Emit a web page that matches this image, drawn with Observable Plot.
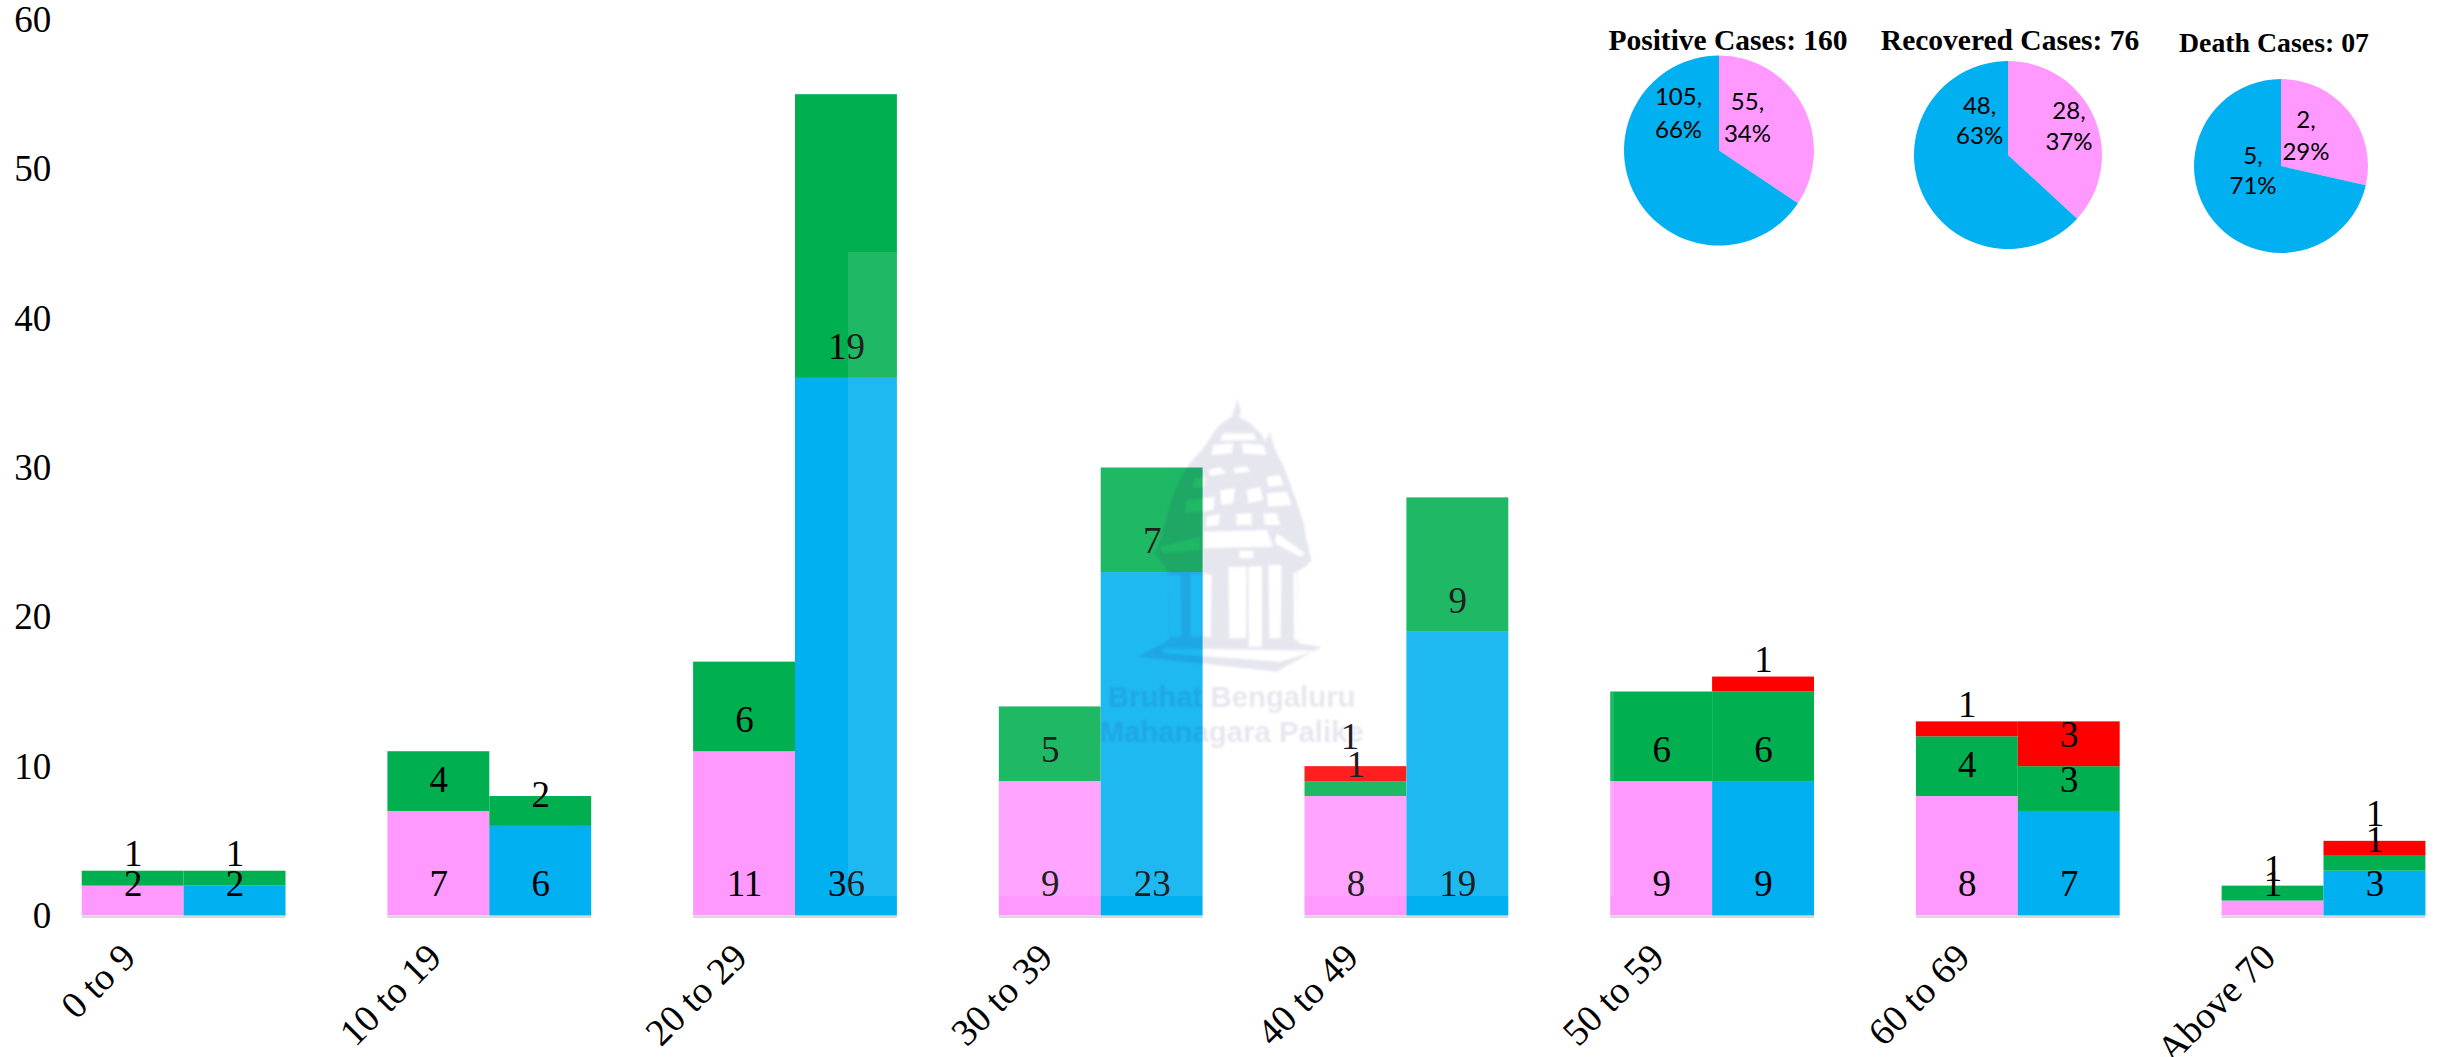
<!DOCTYPE html>
<html>
<head>
<meta charset="utf-8">
<script src="https://cdn.jsdelivr.net/npm/d3@7"></script>
<script src="https://cdn.jsdelivr.net/npm/@observablehq/plot@0.6"></script>
<style>
html,body{margin:0;padding:0;background:#fff;overflow:hidden}
#stage{position:relative;width:2438px;height:1057px}
#stage>svg{position:absolute;left:0;top:0}
#stage>#veil{position:absolute;left:848px;top:252px;width:766px;height:644px;background:rgba(255,255,255,.12);pointer-events:none}
#stage>#mark{left:1090px;top:390px;width:290px;height:370px;pointer-events:none;overflow:visible;filter:blur(.8px)}
</style>
</head>
<body>
<div id="stage"></div>
<script>
// ---- data ----
const ages = ["0 to 9","10 to 19","20 to 29","30 to 39","40 to 49","50 to 59","60 to 69","Above 70"];
const sexes = ["Female","Male"];
const femaleActive    = [2,7,11,9,8,9,8,1];
const femaleRecovered = [1,4,6,5,1,6,4,1];
const femaleDeath     = [0,0,0,0,1,0,1,0];
const maleActive      = [2,6,36,23,19,9,7,3];
const maleRecovered   = [1,2,19,7,9,6,3,1];
const maleDeath       = [0,0,0,0,0,1,3,1];

const pieTitles  = ["Positive Cases: 160","Recovered Cases: 76","Death Cases: 07"];
const pieFemale  = [55,28,2];
const pieMale    = [105,48,5];
const piePercentF = ["34%","37%","29%"];
const piePercentM = ["66%","63%","71%"];

// ---- layout and style ----
const colors = {Female:"#FF99FF", Male:"#00B0F0", Recovered:"#00B050", Death:"#FF0000"};
const serif = "'Liberation Serif','Times New Roman',serif";
const pieLayout = [
  {cx:1719, cy:150.5, r:95, titleX:1728, titleY:40, titleSize:29.5, f:[28.5,-50.5,-18.5], m:[-40.5,-55.5,-22.5]},
  {cx:2008, cy:155,   r:94, titleX:2010, titleY:40, titleSize:29.5, f:[61,-46,-15],       m:[-28.4,-51,-21]},
  {cx:2281, cy:166,   r:87, titleX:2274, titleY:42, titleSize:27.8, f:[25,-48,-16],       m:[-28,-12,18]}
];
const labelOffset = -31.5;
const labelNudges = [
  {age:"40 to 49", sex:"Female", status:"Death", dx:-6, dy:-13},
  {age:"Above 70", sex:"Male",   status:"Death", dx:0,  dy:-11}
];

// ---- table for the stacked bars ----
const series = {
  Female:{Active:femaleActive, Recovered:femaleRecovered, Death:femaleDeath},
  Male:{Active:maleActive, Recovered:maleRecovered, Death:maleDeath}
};
const rows = [];
ages.forEach((age,i) => sexes.forEach(sex => {
  let base = 0;
  for (const status of ["Active","Recovered","Death"]) {
    const count = series[sex][status][i];
    rows.push({age, sex, status, count, base, key: status === "Active" ? sex : status});
    base += count;
  }
}));
const isNudged = d => labelNudges.some(n => n.age===d.age && n.sex===d.sex && n.status===d.status);
const labelled = rows.filter(d => d.count > 0);
const textOpts = {fx:"age", x:"sex", y:"base", text:"count", fontSize:37, fontFamily:serif, fill:"#000"};

// ---- pies: d3.pie / d3.arc drawn as a function mark ----
function pies() {
  const g = d3.create("svg:g");
  const pie = d3.pie().sort(null);
  pieLayout.forEach((L,i) => {
    const slices = pie([pieFemale[i], pieMale[i]]);
    const arc = d3.arc().innerRadius(0).outerRadius(L.r);
    const p = g.append("g").attr("transform",`translate(${L.cx},${L.cy})`);
    p.selectAll("path").data(slices).join("path")
      .attr("d",arc).attr("fill",(d,j)=>j===0?colors.Female:colors.Male);
    const two = (pos,a,b) => {
      for (const [t,dy] of [[a,pos[1]],[b,pos[2]]]) {
        p.append("text").text(t).attr("x",pos[0]).attr("y",dy)
          .attr("text-anchor","middle").attr("dominant-baseline","central")
          .attr("font-family","Lato,'Open Sans',sans-serif").attr("font-size",24).attr("fill","#000");
      }
    };
    two(L.f, pieFemale[i]+",", piePercentF[i]);
    two(L.m, pieMale[i]+",", piePercentM[i]);
    g.append("text").text(pieTitles[i]).attr("x",L.titleX).attr("y",L.titleY)
      .attr("text-anchor","middle").attr("dominant-baseline","central")
      .attr("font-family",serif).attr("font-weight","bold").attr("font-size",L.titleSize).attr("fill","#000");
  });
  return g.node();
}

const chart = Plot.plot({
  width:2438, height:1057,
  marginLeft:81.7, marginRight:12.6, marginTop:19.5, marginBottom:141.5,
  style:{background:"transparent", fontFamily:serif, color:"#000"},
  fx:{domain:ages, paddingInner:1/3, paddingOuter:0, round:false, label:null},
  x:{domain:sexes, padding:0, round:false, axis:null},
  y:{domain:[0,60]},
  color:{domain:Object.keys(colors), range:Object.values(colors)},
  marks:[
    Plot.ruleY([0],{stroke:"#D9D9D9", strokeWidth:2, dy:1}),
    Plot.barY(rows,{fx:"age", x:"sex", y:"count", z:"status", fill:"key", inset:0}),
    Plot.text(labelled.filter(d=>!isNudged(d)),{...textOpts, dy:labelOffset}),
    ...labelNudges.map(n => Plot.text(
      labelled.filter(d=>d.age===n.age&&d.sex===n.sex&&d.status===n.status),
      {...textOpts, dx:n.dx, dy:labelOffset+n.dy})),
    Plot.axisY({anchor:"left", ticks:d3.range(0,61,10), tickSize:0, tickPadding:31, fontSize:37, fontFamily:serif, label:null}),
    Plot.axisFx({anchor:"bottom", tickRotate:-45, textAnchor:"end", tickSize:0, tickPadding:0, fontSize:38, fontFamily:serif, label:null, dx:-55, dy:35})
  ]
});
const stage = document.getElementById("stage");
stage.appendChild(chart);

// the three pies sit on their own unfaceted layer
const pieLayer = Plot.plot({
  width:2438, height:1057, margin:0,
  style:{background:"transparent"},
  x:{axis:null}, y:{axis:null},
  marks:[pies]
});
stage.appendChild(pieLayer);

// ---- watermark laid over the chart ----
const veil = document.createElement("div");
veil.id = "veil";
stage.appendChild(veil);
const holder = document.createElement("div");
holder.innerHTML = `<svg id="mark" viewBox="-90 0 870 1110" xmlns="http://www.w3.org/2000/svg">
<g fill="rgba(30,30,110,.11)">
<path fill-rule="evenodd" d="M352 28 L362 60 L358 82 L392 100 L420 128 L436 152 L450 125 L462 172 L492 232 L522 312 L552 402 L558 445 L575 510 L560 528 L530 545 L535 760 L605 770 L470 845 L55 800 L130 760 L150 745 L145 545 L105 490 L125 440 L140 380 L165 300 L195 240 L215 212 L250 175 L272 140 L298 105 L335 80 L342 60 Z
M250 425 L440 420 L460 470 L250 475 Z M120 470 L240 440 L240 480 L130 490 Z M470 430 L555 490 L540 500 L465 460 Z
M325 530 L380 530 L378 745 L328 745 Z M385 530 L426 528 L426 770 L386 770 Z M445 525 L485 525 L482 745 L448 745 Z M520 548 L532 545 L535 750 L522 750 Z
M250 550 L275 555 L272 740 L250 740 Z M145 555 L182 555 L185 740 L148 740 Z M212 552 L246 552 L246 740 L212 740 Z
M358 482 L400 482 L400 505 L358 505 Z M130 775 L590 782 L480 815 L130 790 Z
M265 240 L300 232 L320 250 L270 258 Z M340 235 L380 228 L390 245 L345 250 Z M300 300 L345 295 L340 340 L305 345 Z M380 300 L420 290 L430 330 L385 340 Z M260 380 L300 372 L295 405 L258 410 Z M350 372 L395 370 L395 405 L350 405 Z M430 370 L470 370 L480 405 L435 405 Z M310 130 L400 130 L410 150 L300 152 Z
M280 165 L340 160 L335 190 L275 195 Z M365 160 L430 165 L440 195 L370 190 Z M225 265 L258 262 L250 290 L218 295 Z M440 260 L480 255 L490 285 L445 290 Z M200 330 L285 320 L280 360 L195 370 Z M440 310 L500 305 L515 345 L445 350 Z"/>
<text x="335" y="952" text-anchor="middle" font-family="'Liberation Sans',Arial,sans-serif" font-weight="700" font-size="88">Bruhat Bengaluru</text>
<text x="335" y="1055" text-anchor="middle" font-family="'Liberation Sans',Arial,sans-serif" font-weight="700" font-size="88">Mahanagara Palike</text>
</g></svg>`;
stage.appendChild(holder.firstElementChild);
</script>
</body>
</html>
